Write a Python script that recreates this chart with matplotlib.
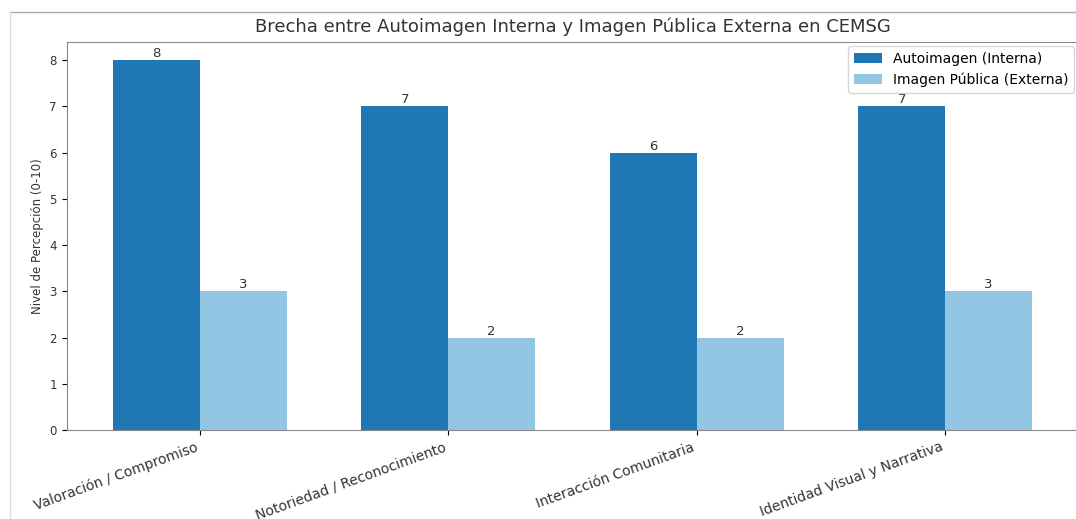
import matplotlib
matplotlib.use("Agg")
import matplotlib.pyplot as plt
import numpy as np
from matplotlib.lines import Line2D

categories = ["Valoración / Compromiso", "Notoriedad / Reconocimiento",
              "Interacción Comunitaria", "Identidad Visual y Narrativa"]
autoimagen = [8, 7, 6, 7]
imagen_publica = [3, 2, 2, 3]

fig = plt.figure(figsize=(10.76, 5.19), dpi=100)
ax = fig.add_axes([0.062, 0.171, 0.94, 0.748])

x = np.arange(len(categories))
w = 0.35
b1 = ax.bar(x - w/2, autoimagen, w, color="#1f77b4", label="Autoimagen (Interna)")
b2 = ax.bar(x + w/2, imagen_publica, w, color="#93c6e3", label="Imagen Pública (Externa)")
ax.bar_label(b1, fontsize=9.5, color="#333333")
ax.bar_label(b2, fontsize=9.5, color="#333333")

ax.set_title("Brecha entre Autoimagen Interna y Imagen Pública Externa en CEMSG",
             fontsize=13, color="#333333", pad=7)
ax.set_ylabel("Nivel de Percepción (0-10)", fontsize=8.5, color="#333333")
ax.set_xticks(x)
ax.set_xticklabels(categories, rotation=20, ha="right", fontsize=10, color="#333333")
ax.tick_params(axis="y", labelsize=8.5, labelcolor="#333333")
ax.set_ylim(0, 8.39)
ax.legend(loc="upper right", fontsize=10, borderaxespad=0.3)

for s in ["left", "bottom", "top"]:
    ax.spines[s].set_color("#888888")

fig.add_artist(Line2D([0.009, 1.0], [0.977, 0.977], transform=fig.transFigure, color="#aaaaaa", lw=1))
fig.add_artist(Line2D([0.009, 0.009], [0.0, 0.977], transform=fig.transFigure, color="#dddddd", lw=1))

fig.savefig("out.png", dpi=100)
